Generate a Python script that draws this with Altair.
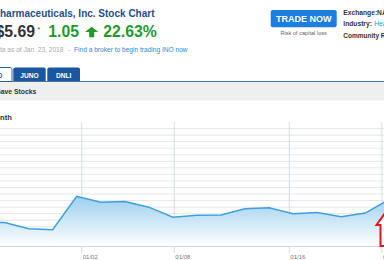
import altair as alt
import pandas as pd

# ---- data ----
dates = ["12/26", "12/27", "12/28", "12/29", "01/02", "01/03", "01/04", "01/05",
         "01/08", "01/09", "01/10", "01/11", "01/12", "01/16", "01/17", "01/18",
         "01/19", "01/22", "01/23"]
session = list(range(len(dates)))
prices = [3.95, 3.93, 3.74, 3.71, 4.73, 4.55, 4.57, 4.40, 4.09, 4.15, 4.16,
          4.35, 4.38, 4.20, 4.24, 4.11, 4.22, 4.64, 5.69]
grid_prices = [3.2, 3.4, 3.6, 3.8, 4.0, 4.2, 4.4, 4.6, 4.8, 5.0, 5.2, 5.4,
               5.6, 5.8, 6.0, 6.2, 6.4, 6.6, 6.8]
tick_labels = ["01/02", "01/08", "01/16", "01/22"]
tick_sessions = [4.21, 8.06, 12.84, 16.69]

df = pd.DataFrame({"session": session, "date": dates, "price": prices})
grid_df = pd.DataFrame({"p": grid_prices})
tick_df = pd.DataFrame({"s": tick_sessions, "label": tick_labels})

W, H = 384, 260
FONT = "Liberation Sans"
xscale = alt.Scale(domain=[0.811, 16.778], range=[0, 384])
yscale = alt.Scale(domain=[3.2, 6.8], range=[253, 122])

one = alt.Data(values=[{}])


def txt(s, x, y, size, color, weight="normal", align="left", font=FONT):
    return alt.Chart(one).mark_text(
        text=s, align=align, baseline="alphabetic", fontSize=size,
        fontWeight=weight, color=color, font=font
    ).encode(x=alt.value(x), y=alt.value(y))


def box(x1, x2, y1, y2, fill, stroke=None, radius=0, top_radius=0):
    kw = dict(color=fill)
    if stroke:
        kw["stroke"] = stroke
        kw["strokeWidth"] = 1
    if radius:
        kw["cornerRadius"] = radius
    if top_radius:
        kw["cornerRadiusTopLeft"] = top_radius
        kw["cornerRadiusTopRight"] = top_radius
    return alt.Chart(one).mark_rect(**kw).encode(
        x=alt.value(x1), x2=alt.value(x2), y=alt.value(y1), y2=alt.value(y2))


# ---- chart part ----
hgrid = alt.Chart(grid_df).mark_rule(color="#e3e7ec", strokeWidth=1).encode(
    y=alt.Y("p:Q", scale=yscale, axis=None),
    x=alt.value(0), x2=alt.value(W))

vgrid = alt.Chart(tick_df).mark_rule(color="#d6dce3", strokeWidth=1).encode(
    x=alt.X("s:Q", scale=xscale, axis=None),
    y=alt.value(122), y2=alt.value(253))

gradient = alt.Gradient(
    gradient="linear",
    stops=[alt.GradientStop(color="#5db2e3", offset=0),
           alt.GradientStop(color="#ffffff", offset=1)],
    x1=1, x2=1, y1=0, y2=1)

area = alt.Chart(df).mark_area(clip=True, color=gradient).encode(
    x=alt.X("session:Q", scale=xscale, axis=None),
    y=alt.Y("price:Q", scale=yscale, axis=None),
    y2=alt.datum(3.2))

line = alt.Chart(df).mark_line(clip=True, color="#3d9fdc", strokeWidth=1.5).encode(
    x=alt.X("session:Q", scale=xscale, axis=None),
    y=alt.Y("price:Q", scale=yscale, axis=None))

baseline = alt.Chart(one).mark_rule(color="#cfd6dd", strokeWidth=1).encode(
    y=alt.datum(3.2), x=alt.value(0), x2=alt.value(W))

tick_text = alt.Chart(tick_df).mark_text(
    align="left", baseline="alphabetic", fontSize=6, color="#777", font=FONT, dx=1
).encode(x=alt.X("s:Q", scale=xscale, axis=None), y=alt.value(259.3), text="label:N")

red_arrow = alt.Chart(one).mark_point(
    shape="M0,-1L0.515,-0.273L0.273,-0.273L0.273,1L-0.273,1L-0.273,-0.273L-0.515,-0.273Z",
    filled=True, fill="#ffffff", stroke="#e3161d", strokeWidth=2, opacity=1, size=1089
).encode(x=alt.value(385), y=alt.value(229.5))

# ---- page header ----
green = "#23992b"
layers = [
    hgrid, vgrid, area, line, baseline, tick_text, red_arrow,
    txt("Inovio Pharmaceuticals, Inc. Stock Chart", -38.9, 16.5, 10, "#1f4e8c", "bold"),
    txt("$5.69", -4.5, 37.3, 15.8, "#333333", "bold"),
    txt("*", 37.2, 31.5, 8, "#555555"),
    txt("1.05", 48.3, 37.3, 15.8, green, "bold"),
    alt.Chart(one).mark_point(
        shape="M0,-0.8L1,0L0.38,0L0.38,0.8L-0.38,0.8L-0.38,0L-1,0Z",
        filled=True, color=green, opacity=1, size=177
    ).encode(x=alt.value(91.7), y=alt.value(32)),
    txt("22.63%", 103.3, 37.3, 15.8, green, "bold"),
    txt("Data as of Jan. 23, 2018", -8.4, 51.5, 6.6, "#aaaaaa"),
    txt("-", 68.3, 51.5, 6.6, "#aaaaaa"),
    txt("Find a broker to begin trading INO now", 74, 51.5, 6.6, "#2b8ccc"),
    box(270.7, 336.7, 10, 27.3, "#1b7ee0", radius=2),
    txt("TRADE NOW", 303.7, 21.7, 9, "#ffffff", "bold", "center",
        "Liberation Sans Narrow, Arial Narrow, Liberation Sans"),
    txt("Risk of capital loss", 303.7, 34.5, 5.6, "#666666", align="center"),
    txt("Exchange:NASDAQ", 343.3, 15, 6.7, "#333333", "bold"),
    txt("Industry:", 343.3, 26.3, 6.7, "#333333", "bold"),
    txt("Healthcare", 374.2, 26.3, 6.7, "#2b9ad6"),
    txt("Community Rating", 343.3, 37.5, 6.5, "#333333", "bold"),
    # tabs
    box(-3, 12, 67.5, 81.5, "#ffffff", stroke="#2a5f9e", top_radius=2),
    txt("INO", 2.5, 77.5, 6.6, "#1f56a0", "bold", "right"),
    box(13.3, 45.7, 67.5, 81, "#1b56a0", top_radius=2),
    txt("JUNO", 29.5, 77.5, 6.6, "#ffffff", "bold", "center"),
    box(47.3, 80, 67.5, 81, "#1b56a0", top_radius=2),
    txt("DNLI", 63.7, 77.5, 6.6, "#ffffff", "bold", "center"),
    alt.Chart(one).mark_rule(color="#4574ab", strokeWidth=1).encode(
        x=alt.value(12), x2=alt.value(W), y=alt.value(81.5)),
    box(0, W, 82.3, 100.7, "#efefef"),
    txt("Save Stocks", -3.8, 94, 6.8, "#333333", "bold"),
    txt("1 Month", -17.3, 120, 7.6, "#333333", "bold"),
]

chart = alt.layer(*layers).properties(
    width=W, height=H, padding=0,
    autosize=alt.AutoSizeParams(type="none"),
    background="#ffffff",
).configure_view(strokeWidth=0)

chart.save("out.html", embed_options={"renderer": "svg", "actions": False})
